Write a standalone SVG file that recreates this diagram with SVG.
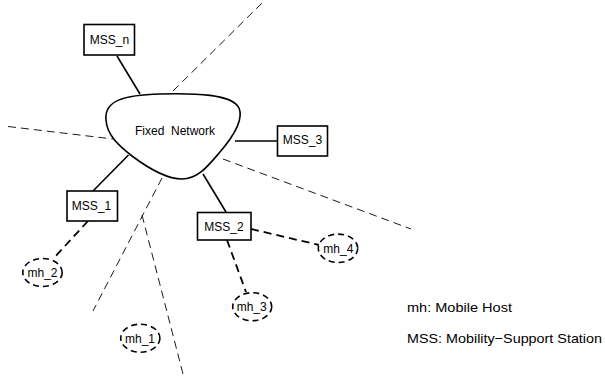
<svg xmlns="http://www.w3.org/2000/svg" width="605" height="377" viewBox="0 0 605 377">
<style>
text{font-family:"Liberation Sans",Arial,sans-serif;font-size:12px;fill:#000}
.lbl{text-anchor:middle}
.box{fill:#fff;stroke:#000;stroke-width:1.6}
.solid{stroke:#000;stroke-width:1.6;fill:none}
.thin{stroke:#000;stroke-width:0.9;fill:none;stroke-dasharray:8 5}
.wdash{stroke:#000;stroke-width:1.8;fill:none;stroke-dasharray:8 5}
.mh{fill:#fff;stroke:#000;stroke-width:1.6;stroke-dasharray:6 4}
.legend{font-size:13.5px}
</style>
<rect width="605" height="377" fill="#fff"/>
<g id="boundaries">
<line class="thin" x1="173" y1="91" x2="262" y2="3"/>
<line class="thin" x1="8" y1="126.5" x2="113" y2="139"/>
<line class="thin" x1="223" y1="159" x2="411" y2="229"/>
<line class="thin" x1="162" y1="178" x2="93" y2="311"/>
<line class="thin" x1="142" y1="215" x2="183" y2="374"/>
</g>
<g id="connectors">
<line class="solid" x1="117" y1="56" x2="140" y2="94"/>
<line class="solid" x1="235" y1="141" x2="277" y2="141"/>
<line class="solid" x1="128.5" y1="155" x2="93" y2="191"/>
<line class="solid" x1="203" y1="174" x2="226" y2="212"/>
<line class="wdash" x1="88" y1="221" x2="53" y2="259"/>
<line class="wdash" x1="251" y1="229" x2="319" y2="245"/>
<line class="wdash" x1="227" y1="240" x2="246" y2="292"/>
</g>
<g id="fixed-network">
<path class="solid" d="M106,120 C104,100 125,95 160,94 C195,93 232,94 239,108 C244,120 232,138 220,152 C208,166 198,179 182,179 C166,179 148,168 132,156 C118,145 107,135 106,120 Z"/>
<text class="lbl" x="175" y="134.5" xml:space="preserve">Fixed  Network</text>
</g>
<g id="MSS_n">
<rect class="box" x="84" y="24.5" width="50.5" height="30.5"/>
<text class="lbl" x="109.5" y="44">MSS_n</text>
</g>
<g id="MSS_3">
<rect class="box" x="277.5" y="126" width="50" height="30"/>
<text class="lbl" x="302.5" y="144.3">MSS_3</text>
</g>
<g id="MSS_1">
<rect class="box" x="67" y="191" width="50.5" height="30"/>
<text class="lbl" x="91.5" y="209.5">MSS_1</text>
</g>
<g id="MSS_2">
<rect class="box" x="197.5" y="212.5" width="53.5" height="27.5"/>
<text class="lbl" x="224" y="231.3">MSS_2</text>
</g>
<g id="mh_2">
<ellipse class="mh" cx="42.5" cy="272.5" rx="19.7" ry="14"/>
<text class="lbl" x="42.5" y="277.3">mh_2</text>
</g>
<g id="mh_4">
<ellipse class="mh" cx="338" cy="248.3" rx="19.7" ry="14.2"/>
<text class="lbl" x="338.3" y="252.7">mh_4</text>
</g>
<g id="mh_3">
<ellipse class="mh" cx="252.2" cy="306.7" rx="19.5" ry="14"/>
<text class="lbl" x="251.7" y="310.7">mh_3</text>
</g>
<g id="mh_1">
<ellipse class="mh" cx="140.3" cy="338.2" rx="19.6" ry="14"/>
<text class="lbl" x="140" y="343">mh_1</text>
</g>
<g id="legend">
<text class="legend" x="407" y="312" textLength="105" lengthAdjust="spacingAndGlyphs">mh: Mobile Host</text>
<text class="legend" x="407" y="343" textLength="195" lengthAdjust="spacingAndGlyphs">MSS: Mobility−Support Station</text>
</g>
</svg>
